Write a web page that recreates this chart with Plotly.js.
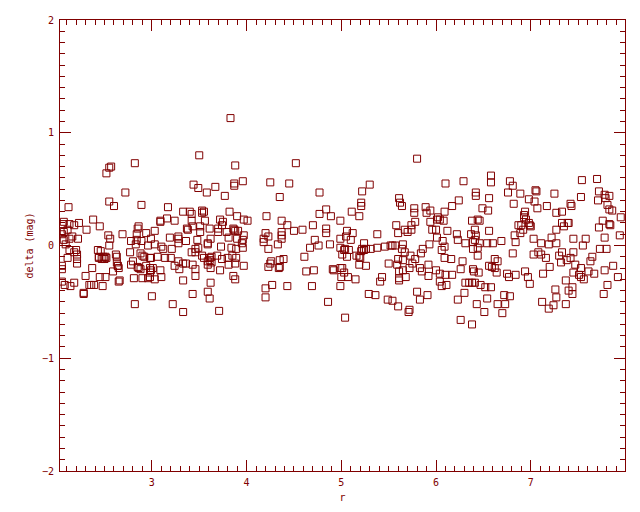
<!DOCTYPE html>
<html>
<head>
<meta charset="utf-8">
<script src="https://cdn.plot.ly/plotly-3.0.1.min.js"></script>
<style>html,body{margin:0;padding:0;background:#fff;}#plot{width:640px;height:512px;}</style>
</head>
<body>
<div id="plot"></div>
<script>
// left part of the field (r < 4)
const xA = [3.50,3.88,2.82,2.57,2.55,2.52,3.96,3.87,3.87,3.44,
3.49,3.67,3.58,3.77,2.72,2.55,2.60,2.89,3.17,2.12,
3.33,3.40,3.42,3.53,3.55,3.53,3.82,3.90,3.97,4.01,
2.38,2.07,2.06,2.13,2.18,2.23,2.45,2.31,2.86,2.85,
3.09,3.09,3.16,3.24,3.42,3.43,3.51,3.56,3.61,3.72,
3.75,3.74,3.70,3.79,3.86,3.87,3.88,3.91,3.97,3.37,
3.38,3.03,2.94,2.84,2.69,2.54,2.56,2.55,2.11,2.07,
2.05,2.16,2.22,2.13,2.07,2.09,3.19,3.28,3.28,3.48,
3.36,3.51,3.62,3.70,3.81,3.90,3.96,3.95,3.96,3.89,
3.84,3.73,3.59,3.59,2.99,2.96,2.89,2.78,2.84,2.83,
3.03,3.10,3.12,3.21,3.28,3.42,3.46,3.49,3.46,2.77,
2.88,2.90,2.92,2.99,2.98,3.06,3.14,3.20,3.28,3.33,
3.36,3.43,3.53,3.55,3.61,3.63,3.61,3.59,3.63,3.69,
3.74,3.80,3.85,3.89,3.88,3.97,2.20,2.21,2.21,2.21,
2.18,2.11,2.13,2.43,2.46,2.44,2.44,2.47,2.49,2.51,
2.50,2.52,2.62,2.63,2.63,2.64,2.65,2.64,2.78,2.80,
2.85,2.86,2.88,2.94,2.98,3.01,2.99,2.98,2.98,2.96,
3.03,3.10,3.09,2.90,2.81,3.24,3.29,3.46,3.46,3.33,
3.59,3.62,3.72,3.81,3.86,3.88,2.05,2.05,2.37,2.30,
2.45,2.51,2.59,2.65,2.66,2.05,2.08,2.14,2.18,2.34,
2.36,2.39,2.48,2.28,2.28,3.00,3.43,3.59,3.61,2.82,
3.22,3.33,3.71,3.62,3.83];
const yA = [0.80,0.71,0.73,0.70,0.69,0.64,0.57,0.55,0.53,0.54,
0.51,0.52,0.47,0.44,0.47,0.39,0.35,0.36,0.34,0.34,
0.30,0.30,0.28,0.31,0.30,0.29,0.30,0.26,0.23,0.22,
0.23,0.21,0.19,0.19,0.18,0.20,0.17,0.14,0.17,0.15,
0.22,0.21,0.24,0.22,0.22,0.17,0.17,0.22,0.15,0.23,
0.21,0.18,0.15,0.12,0.15,0.14,0.13,0.13,0.09,0.15,
0.14,0.13,0.11,0.10,0.10,0.09,0.06,0.00,0.14,0.12,
0.10,0.08,0.06,0.06,0.05,0.01,0.07,0.08,0.06,0.05,
0.04,0.12,0.06,0.12,0.07,0.06,0.05,0.02,-0.02,-0.03,
-0.02,-0.01,0.02,0.01,0.06,0.00,0.04,0.04,0.05,0.01,
0.01,-0.01,-0.03,-0.03,0.02,-0.06,-0.03,-0.02,-0.06,-0.06,
-0.07,-0.09,-0.10,-0.11,-0.11,-0.10,-0.11,-0.11,-0.14,-0.16,
-0.16,-0.17,-0.09,-0.11,-0.11,-0.10,-0.13,-0.14,-0.15,-0.09,
-0.12,-0.11,-0.09,-0.11,-0.16,-0.18,-0.04,-0.08,-0.12,-0.16,
-0.06,-0.11,-0.04,-0.04,-0.05,-0.10,-0.11,-0.12,-0.10,-0.10,
-0.12,-0.11,-0.08,-0.10,-0.15,-0.18,-0.20,-0.18,-0.17,-0.14,
-0.19,-0.20,-0.21,-0.18,-0.20,-0.20,-0.22,-0.24,-0.28,-0.29,
-0.30,-0.28,-0.22,-0.29,-0.29,-0.18,-0.21,-0.21,-0.27,-0.31,
-0.17,-0.20,-0.22,-0.17,-0.27,-0.30,-0.18,-0.21,-0.20,-0.27,
-0.28,-0.28,-0.23,-0.32,-0.31,-0.32,-0.35,-0.36,-0.33,-0.35,
-0.35,-0.35,-0.36,-0.42,-0.43,-0.45,-0.43,-0.41,-0.47,-0.52,
-0.52,-0.59,-0.58,-0.33,1.13];

// middle part (4 < r < 6)
const xB = [5.80,4.52,4.25,4.45,4.35,4.77,5.22,5.30,5.61,5.62,
5.64,5.21,5.21,5.77,5.77,5.89,5.90,5.94,4.84,4.77,
4.89,5.11,5.19,4.21,4.37,4.43,4.70,4.84,4.84,4.99,
4.59,4.50,4.37,4.37,4.37,4.20,4.23,4.18,4.18,4.23,
4.33,4.72,4.67,4.76,4.88,4.99,4.99,5.06,5.05,5.12,
5.10,5.04,5.06,5.01,5.08,5.03,5.24,5.22,5.24,5.21,
5.26,5.31,5.19,5.16,5.20,5.38,5.38,5.46,5.52,5.54,
5.57,5.65,5.64,5.67,5.73,5.78,5.75,5.84,5.86,5.93,
6.01,5.58,5.60,5.67,5.70,5.74,5.74,5.78,5.94,6.01,
6.02,5.96,6.00,4.26,4.25,4.23,4.35,4.35,4.34,4.39,
4.61,4.63,4.71,4.91,4.92,4.99,5.01,5.03,5.00,5.07,
5.15,5.19,5.26,5.43,5.41,5.50,5.60,5.59,5.65,5.61,
5.65,5.61,5.61,5.68,5.72,5.83,5.85,5.92,5.92,6.00,
4.27,4.20,4.43,4.69,4.99,4.20,4.86,5.29,5.36,5.49,
5.54,5.60,5.72,5.71,5.80,5.83,5.91,5.04];
const yB = [0.77,0.73,0.56,0.55,0.43,0.47,0.48,0.54,0.42,0.38,
0.35,0.38,0.35,0.33,0.29,0.34,0.29,0.31,0.32,0.28,
0.26,0.30,0.26,0.26,0.22,0.18,0.18,0.15,0.11,0.22,
0.14,0.13,0.12,0.09,0.06,0.11,0.08,0.06,0.03,-0.03,
0.01,0.05,-0.02,0.00,0.01,0.06,-0.02,0.13,0.08,0.11,
0.05,-0.03,-0.10,-0.08,-0.04,-0.04,0.02,-0.03,-0.04,-0.05,
-0.03,-0.03,-0.10,-0.09,-0.11,0.10,-0.02,-0.01,0.00,0.00,
0.00,0.01,-0.03,-0.06,-0.09,-0.12,-0.16,-0.07,-0.03,0.01,
0.07,0.18,0.11,0.14,0.12,0.14,0.18,0.21,0.21,0.23,
0.25,0.14,0.14,-0.14,-0.16,-0.19,-0.13,-0.19,-0.20,-0.12,
-0.10,-0.23,-0.22,-0.21,-0.22,-0.20,-0.20,-0.24,-0.28,-0.28,
-0.30,-0.17,-0.18,-0.28,-0.32,-0.16,-0.12,-0.17,-0.13,-0.23,
-0.22,-0.29,-0.31,-0.28,-0.20,-0.20,-0.23,-0.17,-0.27,-0.22,
-0.35,-0.38,-0.36,-0.36,-0.36,-0.46,-0.50,-0.43,-0.44,-0.48,
-0.49,-0.54,-0.57,-0.59,-0.41,-0.48,-0.44,-0.64];

// right part (r > 6)
const xC = [6.58,6.58,6.29,6.10,6.78,6.81,7.54,7.70,6.42,6.42,
6.56,6.76,6.89,7.05,7.06,7.25,7.53,7.72,7.71,7.78,
7.83,7.79,7.81,7.83,7.86,6.98,7.04,7.07,6.82,6.49,
6.55,6.24,6.17,6.09,6.94,6.93,6.93,7.17,7.27,7.33,
7.42,7.43,6.44,6.46,6.38,6.08,6.04,6.95,6.98,6.99,
7.00,6.87,6.90,6.92,6.89,6.83,6.84,7.03,7.11,7.19,
7.22,7.27,7.27,7.33,7.35,7.39,7.40,7.45,7.58,7.55,
7.76,7.72,7.83,7.84,7.78,7.95,7.94,6.12,6.22,6.23,
6.07,6.09,6.06,6.31,6.37,6.41,6.42,6.41,6.39,6.39,
6.44,6.44,6.46,6.54,6.56,6.60,6.69,6.09,6.16,6.28,
6.26,6.39,6.40,6.45,6.56,6.59,6.62,6.65,6.62,6.64,
6.75,6.77,6.84,6.94,6.97,6.99,6.81,7.03,7.08,7.11,
7.16,7.30,7.33,7.32,7.38,7.42,7.45,7.47,7.53,7.45,
7.51,7.53,7.56,7.61,7.67,7.63,7.65,7.73,7.80,7.78,
7.87,7.92,7.81,7.77,7.20,7.13,7.37,7.40,7.44,7.44,
7.26,7.27,7.12,7.19,7.24,7.37,6.04,6.10,6.17,6.04,
6.06,6.11,6.31,6.35,6.38,6.41,6.47,6.52,6.58,6.30,
6.23,6.43,6.54,6.51,6.72,6.78,6.73,6.65,6.70,6.38,
6.26];
const yC = [0.62,0.56,0.57,0.55,0.57,0.53,0.58,0.59,0.47,0.44,
0.42,0.47,0.46,0.49,0.48,0.46,0.43,0.48,0.40,0.45,
0.44,0.42,0.36,0.32,0.31,0.41,0.39,0.33,0.37,0.33,
0.31,0.40,0.35,0.30,0.30,0.27,0.25,0.35,0.29,0.30,
0.37,0.35,0.23,0.22,0.22,0.22,0.23,0.23,0.20,0.18,
0.17,0.18,0.18,0.14,0.11,0.09,0.03,0.06,0.02,0.01,
0.07,0.02,0.14,0.20,0.17,0.20,0.20,0.06,0.06,0.00,
0.22,0.16,0.19,0.18,0.07,0.25,0.09,0.13,0.10,0.05,
0.04,-0.01,-0.04,0.02,0.10,0.14,0.09,0.05,0.03,-0.03,
-0.02,-0.09,0.02,0.02,0.13,0.02,0.04,-0.11,-0.12,-0.14,
-0.21,-0.21,-0.23,-0.24,-0.18,-0.19,-0.12,-0.14,-0.20,-0.24,
-0.25,-0.28,-0.26,-0.23,-0.28,-0.34,-0.07,-0.08,-0.06,-0.08,
-0.11,-0.09,-0.06,-0.15,-0.13,-0.11,-0.06,-0.17,-0.20,-0.24,
-0.26,-0.28,-0.30,-0.23,-0.25,-0.14,-0.10,-0.03,-0.03,-0.22,
-0.18,-0.28,-0.35,-0.43,-0.19,-0.25,-0.31,-0.40,-0.37,-0.43,
-0.39,-0.46,-0.50,-0.56,-0.53,-0.52,-0.25,-0.26,-0.26,-0.32,
-0.36,-0.35,-0.33,-0.33,-0.33,-0.33,-0.35,-0.37,-0.37,-0.42,
-0.48,-0.52,-0.47,-0.59,-0.44,-0.45,-0.52,-0.52,-0.60,-0.70,
-0.66];

const xTitle = 'r';
const yTitle = 'delta (mag)';

const DARK = '#800000';
const FONT = 'DejaVu Sans Mono';

const trace = {
  type: 'scatter',
  mode: 'markers',
  x: xA.concat(xB, xC),
  y: yA.concat(yB, yC),
  marker: {symbol: 'square-open', size: 7, color: DARK, line: {width: 1, color: DARK}},
  hoverinfo: 'skip',
  showlegend: false
};

const axisCommon = {
  showline: true, linecolor: DARK, linewidth: 1, mirror: 'ticks',
  ticks: 'inside', ticklen: 11, tickwidth: 1, tickcolor: DARK,
  showgrid: false, zeroline: false,
  tickfont: {family: FONT, size: 10, color: DARK},
  minor: {dtick: 0.1, ticks: 'inside', ticklen: 5, tickwidth: 1, tickcolor: DARK, showgrid: false}
};

const layout = {
  width: 640, height: 512,
  margin: {l: 60, r: 15, t: 20, b: 41, pad: 0},
  paper_bgcolor: '#ffffff', plot_bgcolor: '#ffffff',
  xaxis: Object.assign({}, axisCommon, {
    range: [2.03, 7.995], tick0: 0, dtick: 1,
    ticklabelstandoff: 2,
    title: {text: xTitle, font: {family: FONT, size: 10, color: DARK}, standoff: 6}
  }),
  yaxis: Object.assign({}, axisCommon, {
    range: [-2, 2], tick0: 0, dtick: 1,
    ticklabelstandoff: 3,
    title: {text: yTitle, font: {family: FONT, size: 10, color: DARK}, standoff: 6}
  })
};

Plotly.newPlot('plot', [trace], layout, {staticPlot: true, displayModeBar: false});
</script>
</body>
</html>
